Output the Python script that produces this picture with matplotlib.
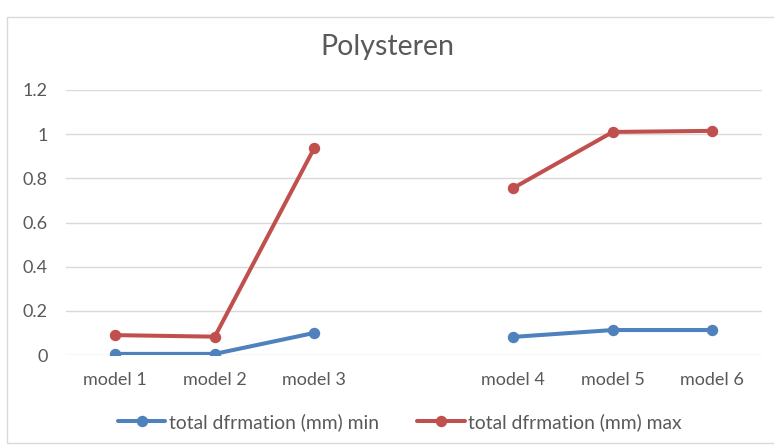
import numpy as np
import matplotlib
matplotlib.use("Agg")
import matplotlib.pyplot as plt
from matplotlib.patches import FancyBboxPatch

plt.rcParams['font.family'] = ['Lato', 'DejaVu Sans']

categories = ['model 1', 'model 2', 'model 3', '', 'model 4', 'model 5', 'model 6']
deform_min = [0.005, 0.005, 0.10, np.nan, 0.082, 0.113, 0.113]
deform_max = [0.09, 0.083, 0.937, np.nan, 0.756, 1.01, 1.015]
series_labels = ['total dfrmation (mm) min', 'total dfrmation (mm) max']
y_ticks = [0, 0.2, 0.4, 0.6, 0.8, 1, 1.2]
y_tick_labels = ['0', '0.2', '0.4', '0.6', '0.8', '1', '1.2']

blue = '#4F81BD'
red = '#C0504D'
text_gray = '#595959'

fig = plt.figure(figsize=(7.74, 4.45), dpi=100)
fig.patch.set_facecolor('white')

# chart frame
frame = FancyBboxPatch((7 / 774, 0.005), 1.2, 1 - 17 / 445 - 0.005,
                       boxstyle='square,pad=0', transform=fig.transFigure,
                       facecolor='none', edgecolor='#D9D9D9', linewidth=1.0)
fig.patches.append(frame)

ax = fig.add_axes([65.5 / 774, 1 - 355 / 445, (762 - 65.5) / 774, (355 - 90) / 445])
x = np.arange(len(categories))

ax.plot(x, deform_min, color=blue, lw=2.9, marker='o', ms=7.2,
        solid_capstyle='round', label=series_labels[0])
ax.plot(x, deform_max, color=red, lw=2.9, marker='o', ms=7.2,
        solid_capstyle='round', label=series_labels[1])

ax.set_xlim(-0.5, len(categories) - 0.5)
ax.set_ylim(0, 1.2)
ax.set_yticks(y_ticks)
ax.set_yticklabels(y_tick_labels)
ax.set_xticks(x)
ax.set_xticklabels(categories)
ax.grid(axis='y', color='#D9D9D9', lw=1.0)
ax.set_axisbelow(True)
for s in ax.spines.values():
    s.set_visible(False)
ax.tick_params(axis='both', length=0, colors=text_gray, labelsize=13)
ax.tick_params(axis='y', pad=13)
ax.tick_params(axis='x', pad=12)

fig.text(0.5, 1 - 47 / 445, 'Polysteren', ha='center', va='center',
         fontsize=20.5, color=text_gray)

leg = ax.legend(loc='center', bbox_to_anchor=(0.48, (355 - 422) / 265),
                ncol=2, frameon=False, handlelength=2.45, handletextpad=0.17,
                columnspacing=2.0, fontsize=13.9)
for t in leg.get_texts():
    t.set_color(text_gray)

fig.savefig('out.png', dpi=100, facecolor='white')
